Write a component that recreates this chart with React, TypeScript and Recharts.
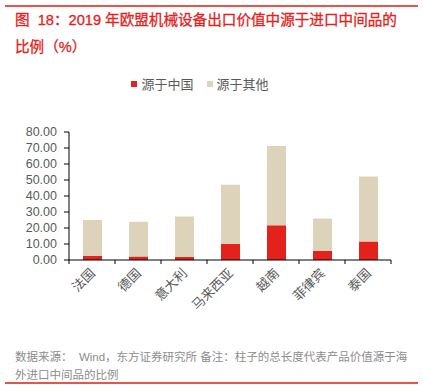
import { BarChart, Bar, XAxis, YAxis, Legend } from 'recharts'

const countries = ['法国', '德国', '意大利', '马来西亚', '越南', '菲律宾', '泰国']
const fromChina = [2.7, 2.2, 2.0, 10.0, 21.7, 5.8, 11.6]
const fromOther = [22.3, 21.7, 25.2, 37.1, 49.5, 20.1, 40.6]
const yTicks = [0, 10, 20, 30, 40, 50, 60, 70, 80]

const data = countries.map((name, i) => ({
  name,
  china: fromChina[i],
  other: fromOther[i],
}))

const red = '#e2221b'
const beige = '#ddd3bb'
const font = '"Liberation Sans", "Noto Sans CJK SC", sans-serif'

const CountryTick = (props: any) => {
  const { x, y, payload, index, visibleTicksCount } = props
  const band = 46
  return (
    <g>
      <line x1={x - band / 2} y1={y - 8} x2={x - band / 2} y2={y - 4} stroke="#000" />
      {index === visibleTicksCount - 1 && (
        <line x1={x + band / 2} y1={y - 8} x2={x + band / 2} y2={y - 4} stroke="#000" />
      )}
      <text
        x={x + 4}
        y={y + 6}
        transform={`rotate(-45, ${x + 4}, ${y + 6})`}
        textAnchor="end"
        fontSize={13}
        fill="#595959"
        fontFamily={font}
      >
        {payload.value}
      </text>
    </g>
  )
}

const LegendBox = () => (
  <div style={{ display: 'flex', justifyContent: 'center', gap: 13, fontSize: 13, color: '#595959', fontFamily: font }}>
    <span style={{ display: 'flex', alignItems: 'center' }}>
      <span style={{ width: 6, height: 6, background: red, marginRight: 4 }} />源于中国
    </span>
    <span style={{ display: 'flex', alignItems: 'center' }}>
      <span style={{ width: 6, height: 6, background: beige, marginRight: 4 }} />源于其他
    </span>
  </div>
)

export default function App() {
  return (
    <div style={{ position: 'absolute', left: 0, top: 0, width: 423, height: 390, background: '#fff', fontFamily: font }}>
      <div style={{ position: 'absolute', left: 5, right: 5, top: 5, height: 1.5, background: '#e8544c' }} />
      <div style={{ position: 'absolute', left: 15, top: 7, width: 410, color: red, fontSize: 14.6, lineHeight: '27px', whiteSpace: 'nowrap', fontFamily: font, WebkitTextStroke: '0.3px ' + red }}>
        图&nbsp; 18：2019 年欧盟机械设备出口价值中源于进口中间品的<br />比例（%）
      </div>
      <div style={{ position: 'absolute', left: 0, top: 70 }}>
        <BarChart width={423} height={300} data={data} margin={{ top: 43, right: 32, bottom: 50, left: 9 }}>
          <Legend verticalAlign="top" wrapperStyle={{ top: 4 }} content={<LegendBox />} />
          <XAxis
            dataKey="name"
            stroke="#000"
            tickLine={false}
            interval={0}
            height={60}
            tick={<CountryTick />}
          />
          <YAxis
            domain={[0, 80]}
            ticks={yTicks}
            interval={0}
            stroke="#000"
            width={60}
            tickSize={5}
            tickMargin={7}
            tick={{ fill: '#595959', fontSize: 12.5, fontFamily: font }}
            tickFormatter={(v) => v.toFixed(2)}
          />
          <Bar dataKey="china" name="源于中国" stackId="a" fill={red} barSize={19} isAnimationActive={false} />
          <Bar dataKey="other" name="源于其他" stackId="a" fill={beige} barSize={19} isAnimationActive={false} />
        </BarChart>
      </div>
      <div style={{ position: 'absolute', left: 15, top: 348, width: 410, color: '#8c8c8c', fontSize: 11.5, lineHeight: '18px', whiteSpace: 'nowrap', fontFamily: font }}>
        数据来源：&nbsp; Wind，东方证券研究所 备注：柱子的总长度代表产品价值源于海<br />外进口中间品的比例
      </div>
      <div style={{ position: 'absolute', left: 5, right: 5, top: 382, height: 1.5, background: '#e8544c' }} />
    </div>
  )
}
